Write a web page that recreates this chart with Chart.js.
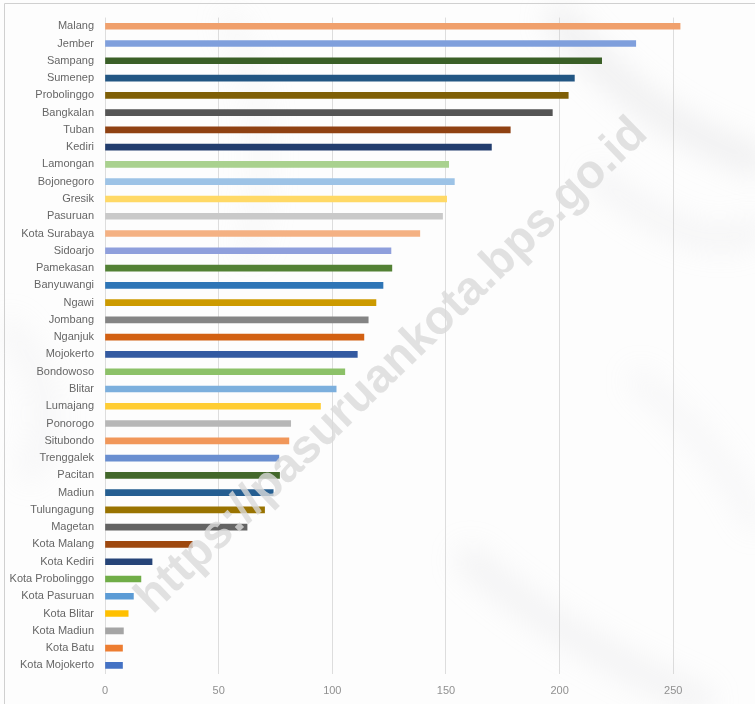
<!DOCTYPE html>
<html>
<head>
<meta charset="utf-8">
<script src="https://cdn.jsdelivr.net/npm/chart.js@4.4.1/dist/chart.umd.min.js"></script>
<style>
  html, body { margin: 0; padding: 0; background: #fff; }
  #wrap { width: 755px; height: 704px; position: relative; }
</style>
</head>
<body>
<div id="wrap"><canvas id="chart" width="755" height="704"></canvas></div>
<script>
// kabupaten / kota, top to bottom as shown
const regions = [
  'Malang', 'Jember', 'Sampang', 'Sumenep', 'Probolinggo', 'Bangkalan', 'Tuban', 'Kediri',
  'Lamongan', 'Bojonegoro', 'Gresik', 'Pasuruan', 'Kota Surabaya', 'Sidoarjo', 'Pamekasan',
  'Banyuwangi', 'Ngawi', 'Jombang', 'Nganjuk', 'Mojokerto', 'Bondowoso', 'Blitar', 'Lumajang',
  'Ponorogo', 'Situbondo', 'Trenggalek', 'Pacitan', 'Madiun', 'Tulungagung', 'Magetan',
  'Kota Malang', 'Kota Kediri', 'Kota Probolinggo', 'Kota Pasuruan', 'Kota Blitar',
  'Kota Madiun', 'Kota Batu', 'Kota Mojokerto'
];

const values = [
  253.0, 233.5, 218.5, 206.5, 203.8, 196.8, 178.3, 170.0,
  151.2, 153.7, 150.3, 148.5, 138.5, 125.8, 126.2,
  122.3, 119.2, 115.8, 113.9, 111.0, 105.5, 101.7, 94.8,
  81.7, 80.9, 76.5, 76.8, 74.0, 70.2, 62.5,
  38.4, 20.7, 15.8, 12.5, 10.2,
  8.1, 7.7, 7.7
];

const barColors = [
  '#f0a06c', '#7f9fdc', '#3a5f27', '#225683', '#7f5f06', '#555555', '#8f4112', '#223d6e',
  '#a9d18e', '#9dc3e6', '#ffd966', '#c9c9c9', '#f4b183', '#8f9fdc', '#538135',
  '#2e75b6', '#cc9a00', '#848484', '#d26012', '#335aa1', '#8cc168', '#7cafdd', '#ffcd33',
  '#b7b7b7', '#f1975a', '#698ed0', '#43682b', '#255e91', '#997300', '#636363',
  '#9e480e', '#264478', '#70ad47', '#5b9bd5', '#ffc000',
  '#a5a5a5', '#ed7d31', '#4472c4'
];

const xTicks = [0, 50, 100, 150, 200, 250];

// soft marble-ish backdrop behind the plot
const marbleBg = {
  id: 'marbleBg',
  beforeDraw(chart) {
    const {ctx, width, height} = chart;
    ctx.save();
    ctx.fillStyle = '#fdfdfd';
    ctx.fillRect(0, 0, width, height);
    ctx.filter = 'blur(14px)';
    ctx.lineCap = 'round';
    const veins = [
      [[560, 20], [640, 120], [755, 160], 'rgba(195,195,200,0.22)', 30],
      [[600, 180], [700, 260], [755, 230], 'rgba(205,205,210,0.18)', 24],
      [[230, 20], [280, 120], [250, 250], 'rgba(210,210,215,0.14)', 20],
      [[10, 330], [70, 400], [30, 470], 'rgba(210,210,215,0.16)', 24],
      [[470, 560], [560, 640], [700, 700], 'rgba(200,200,205,0.18)', 28],
      [[640, 380], [720, 450], [755, 520], 'rgba(210,210,215,0.15)', 22]
    ];
    veins.forEach(([a, b, c, col, w]) => {
      ctx.strokeStyle = col;
      ctx.lineWidth = w;
      ctx.beginPath();
      ctx.moveTo(a[0], a[1]);
      ctx.quadraticCurveTo(b[0], b[1], c[0], c[1]);
      ctx.stroke();
    });
    ctx.filter = 'none';
    // frame on the top and left edges
    ctx.strokeStyle = '#d0d0d0';
    ctx.lineWidth = 1;
    ctx.beginPath();
    ctx.moveTo(4.5, height);
    ctx.lineTo(4.5, 3.5);
    ctx.lineTo(width, 3.5);
    ctx.stroke();
    ctx.restore();
  }
};

// diagonal site watermark over the bars
const watermark = {
  id: 'watermark',
  afterDatasetsDraw(chart) {
    const {ctx} = chart;
    const text = 'https://pasuruankota.bps.go.id';
    ctx.save();
    ctx.translate(392, 366);
    ctx.rotate(-44 * Math.PI / 180);
    ctx.font = 'bold 40px "Liberation Sans", Arial, sans-serif';
    const w = ctx.measureText(text).width;
    const s = 690 / w;
    ctx.scale(s, s);
    ctx.textAlign = 'center';
    ctx.textBaseline = 'middle';
    ctx.fillStyle = 'rgba(218,218,218,0.8)';
    ctx.fillText(text, 0, 0);
    ctx.restore();
  }
};

new Chart(document.getElementById('chart').getContext('2d'), {
  type: 'bar',
  plugins: [marbleBg, watermark],
  data: {
    labels: regions,
    datasets: [{
      data: values,
      backgroundColor: barColors,
      borderWidth: 0,
      barThickness: 6
    }]
  },
  options: {
    indexAxis: 'y',
    responsive: false,
    animation: false,
    layout: {
      padding: {left: 0, right: 9, top: 15, bottom: 0}
    },
    plugins: {
      legend: {display: false},
      tooltip: {enabled: false}
    },
    scales: {
      x: {
        min: 0,
        max: 282,
        afterBuildTicks: scale => {
          scale.ticks = xTicks.map(v => ({value: v}));
        },
        afterFit: scale => { scale.height = 30; },
        grid: {
          color: 'rgba(190,190,190,0.5)',
          drawTicks: false
        },
        border: {display: false},
        ticks: {
          padding: 10,
          color: '#909090',
          font: {family: '"Liberation Sans", Arial, sans-serif', size: 11}
        }
      },
      y: {
        afterFit: scale => { scale.width = 105; },
        grid: {display: false, drawTicks: false},
        border: {display: false},
        ticks: {
          padding: 11,
          autoSkip: false,
          color: '#666666',
          font: {family: '"Liberation Sans", Arial, sans-serif', size: 11}
        }
      }
    }
  }
});
</script>
</body>
</html>
